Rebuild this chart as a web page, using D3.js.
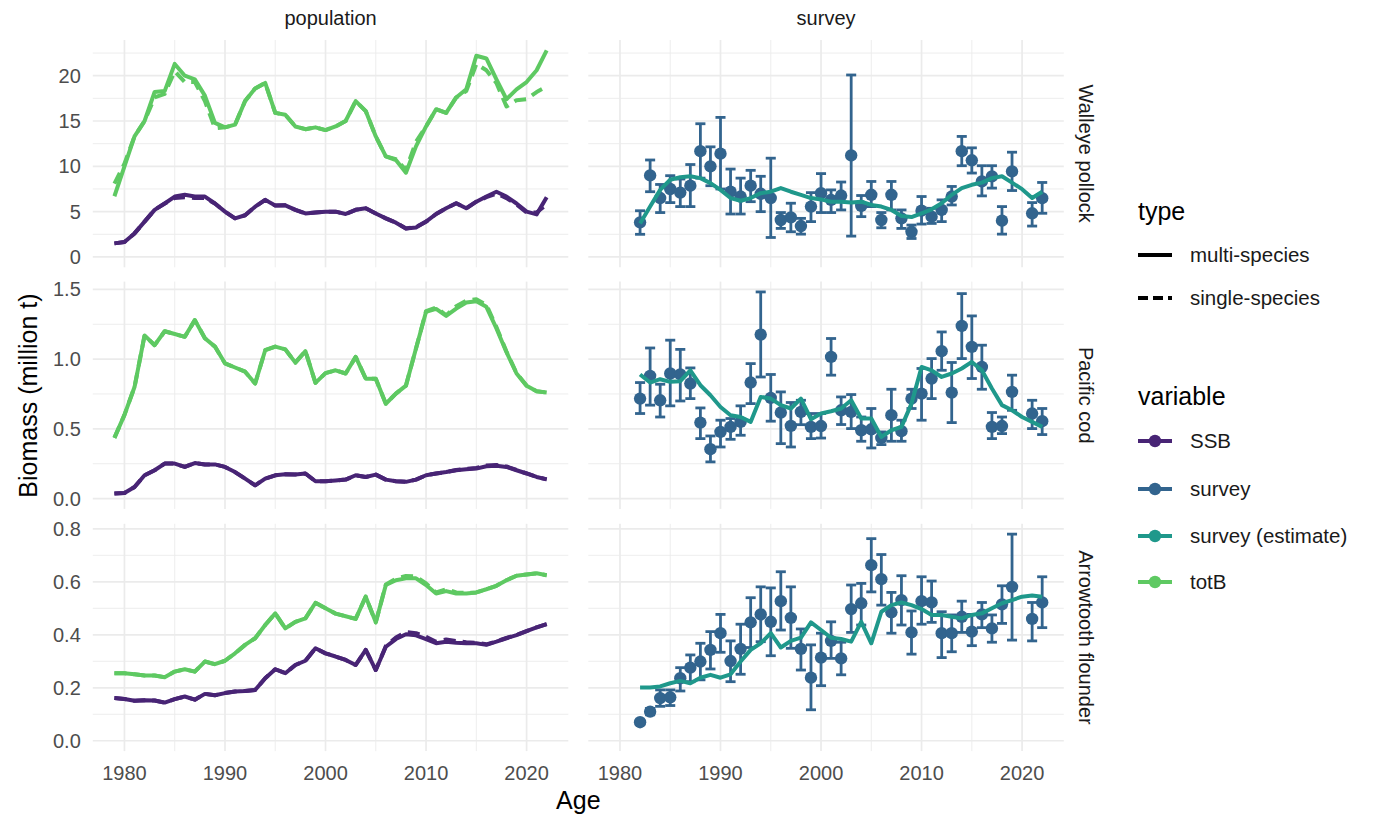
<!DOCTYPE html>
<html>
<head>
<meta charset="utf-8">
<script src="https://cdn.jsdelivr.net/npm/d3@7"></script>
<style>
  body { margin: 0; background: #ffffff; }
  text { font-family: "Liberation Sans", Arial, sans-serif; }
</style>
</head>
<body>
<svg id="chart" width="1397" height="821"></svg>
<script>
// ---------- data ----------
const speciesNames = ["Walleye pollock", "Pacific cod", "Arrowtooth flounder"];
const facetNames = ["population", "survey"];
const typeNames = ["multi-species", "single-species"];
const variableNames = ["SSB", "survey", "survey (estimate)", "totB"];

const popYears = [1979, 1980, 1981, 1982, 1983, 1984, 1985, 1986, 1987, 1988, 1989,
  1990, 1991, 1992, 1993, 1994, 1995, 1996, 1997, 1998, 1999,
  2000, 2001, 2002, 2003, 2004, 2005, 2006, 2007, 2008, 2009,
  2010, 2011, 2012, 2013, 2014, 2015, 2016, 2017, 2018, 2019,
  2020, 2021, 2022];

// Walleye pollock, population (million t)
const pollockTotBMulti = [6.7, 10.0, 13.3, 15.0, 18.2, 18.3, 21.3, 20.0, 19.6, 17.8, 14.8,
  14.3, 14.6, 17.2, 18.6, 19.2, 15.9, 15.7, 14.4, 14.1, 14.3,
  14.0, 14.4, 15.0, 17.2, 16.1, 13.3, 11.1, 10.7, 9.3, 12.2,
  14.4, 16.3, 15.9, 17.6, 18.5, 22.2, 21.9, 19.6, 17.4, 18.5,
  19.3, 20.6, 22.8];
const pollockTotBSingle = [8.1, 10.3, 13.3, 15.0, 17.6, 18.0, 20.5, 19.3, 19.3, 17.2, 14.2,
  14.3, 14.6, 17.2, 18.6, 19.2, 15.9, 15.7, 14.4, 14.1, 14.3,
  14.0, 14.4, 15.0, 17.2, 16.1, 13.3, 11.1, 10.8, 9.6, 12.7,
  14.4, 16.3, 15.9, 17.6, 18.3, 21.3, 20.6, 19.2, 16.6, 17.3,
  17.4, 18.2, 18.8];
const pollockSSBMulti = [1.5, 1.65, 2.6, 3.9, 5.2, 5.9, 6.67, 6.86, 6.67, 6.67, 5.9,
  5.0, 4.26, 4.6, 5.55, 6.3, 5.67, 5.7, 5.2, 4.8, 4.9,
  5.0, 5.0, 4.74, 5.2, 5.37, 4.8, 4.26, 3.78, 3.15, 3.26,
  3.9, 4.74, 5.37, 5.93, 5.37, 6.1, 6.67, 7.2, 6.67, 5.9,
  5.0, 4.7, 6.6];
const pollockSSBSingle = [1.5, 1.65, 2.6, 3.9, 5.2, 5.9, 6.5, 6.6, 6.5, 6.5, 5.9,
  5.0, 4.26, 4.6, 5.55, 6.3, 5.67, 5.7, 5.2, 4.8, 4.9,
  5.0, 5.0, 4.74, 5.2, 5.37, 4.8, 4.26, 3.78, 3.15, 3.3,
  3.9, 4.74, 5.37, 5.93, 5.37, 6.1, 6.6, 7.0, 6.5, 5.8,
  4.9, 4.9, 5.8];

// Pacific cod, population (million t)
const codTotBMulti = [0.435, 0.60, 0.80, 1.17, 1.10, 1.20, 1.18, 1.16, 1.28, 1.15, 1.09,
  0.97, 0.94, 0.91, 0.825, 1.064, 1.09, 1.07, 0.975, 1.057, 0.83,
  0.90, 0.92, 0.897, 1.016, 0.86, 0.86, 0.68, 0.753, 0.81, 1.076,
  1.34, 1.36, 1.31, 1.363, 1.406, 1.415, 1.375, 1.22, 1.05, 0.897,
  0.81, 0.77, 0.76];
const codTotBSingle = [0.435, 0.60, 0.80, 1.17, 1.10, 1.20, 1.18, 1.16, 1.28, 1.15, 1.09,
  0.97, 0.94, 0.91, 0.825, 1.064, 1.09, 1.07, 0.975, 1.057, 0.83,
  0.90, 0.92, 0.897, 1.016, 0.86, 0.86, 0.68, 0.753, 0.81, 1.076,
  1.345, 1.37, 1.315, 1.38, 1.42, 1.43, 1.39, 1.23, 1.055, 0.9,
  0.81, 0.77, 0.76];
const codSSBMulti = [0.036, 0.04, 0.083, 0.167, 0.203, 0.251, 0.251, 0.227, 0.255, 0.245, 0.245,
  0.227, 0.19, 0.143, 0.095, 0.143, 0.167, 0.175, 0.173, 0.18, 0.124,
  0.124, 0.13, 0.136, 0.167, 0.155, 0.172, 0.136, 0.124, 0.12, 0.136,
  0.167, 0.18, 0.19, 0.203, 0.21, 0.215, 0.232, 0.235, 0.227, 0.203,
  0.18, 0.155, 0.138];
const codSSBSingle = [0.036, 0.04, 0.083, 0.167, 0.203, 0.251, 0.251, 0.227, 0.255, 0.245, 0.245,
  0.227, 0.19, 0.143, 0.095, 0.143, 0.167, 0.175, 0.173, 0.18, 0.124,
  0.124, 0.13, 0.136, 0.167, 0.155, 0.172, 0.136, 0.124, 0.12, 0.136,
  0.167, 0.18, 0.19, 0.205, 0.213, 0.22, 0.238, 0.24, 0.23, 0.205,
  0.18, 0.155, 0.138];

// Arrowtooth flounder, population (million t)
const arrowTotBMulti = [0.255, 0.255, 0.251, 0.246, 0.246, 0.24, 0.261, 0.27, 0.261, 0.299, 0.289,
  0.302, 0.33, 0.362, 0.387, 0.437, 0.481, 0.424, 0.449, 0.462, 0.521,
  0.50, 0.48, 0.47, 0.46, 0.544, 0.447, 0.588, 0.606, 0.613, 0.613,
  0.588, 0.556, 0.565, 0.556, 0.556, 0.56, 0.572, 0.585, 0.606, 0.623,
  0.628, 0.632, 0.625];
const arrowTotBSingle = [0.255, 0.255, 0.251, 0.246, 0.246, 0.24, 0.261, 0.27, 0.261, 0.299, 0.289,
  0.302, 0.33, 0.362, 0.387, 0.437, 0.481, 0.424, 0.449, 0.462, 0.521,
  0.50, 0.48, 0.47, 0.46, 0.544, 0.447, 0.59, 0.612, 0.622, 0.62,
  0.594, 0.56, 0.572, 0.56, 0.558, 0.56, 0.572, 0.585, 0.606, 0.623,
  0.628, 0.632, 0.625];
const arrowSSBMulti = [0.161, 0.158, 0.151, 0.153, 0.152, 0.144, 0.157, 0.167, 0.155, 0.177, 0.172,
  0.18, 0.186, 0.188, 0.192, 0.236, 0.27, 0.255, 0.286, 0.302, 0.349,
  0.33, 0.318, 0.305, 0.286, 0.343, 0.267, 0.355, 0.384, 0.402, 0.398,
  0.384, 0.368, 0.374, 0.37, 0.368, 0.368, 0.362, 0.374, 0.387, 0.399,
  0.414, 0.428, 0.44];
const arrowSSBSingle = [0.161, 0.158, 0.151, 0.153, 0.152, 0.144, 0.157, 0.167, 0.155, 0.177, 0.172,
  0.18, 0.186, 0.188, 0.192, 0.236, 0.27, 0.255, 0.286, 0.302, 0.349,
  0.33, 0.318, 0.305, 0.286, 0.343, 0.267, 0.358, 0.39, 0.41, 0.406,
  0.392, 0.374, 0.382, 0.376, 0.372, 0.37, 0.364, 0.375, 0.388, 0.4,
  0.414, 0.428, 0.44];

// Survey index years (no survey in 2020) and estimate years
const surveyYears = [1982, 1983, 1984, 1985, 1986, 1987, 1988, 1989,
  1990, 1991, 1992, 1993, 1994, 1995, 1996, 1997, 1998, 1999,
  2000, 2001, 2002, 2003, 2004, 2005, 2006, 2007, 2008, 2009,
  2010, 2011, 2012, 2013, 2014, 2015, 2016, 2017, 2018, 2019,
  2021, 2022];
const estimateYears = [1982, 1983, 1984, 1985, 1986, 1987, 1988, 1989,
  1990, 1991, 1992, 1993, 1994, 1995, 1996, 1997, 1998, 1999,
  2000, 2001, 2002, 2003, 2004, 2005, 2006, 2007, 2008, 2009,
  2010, 2011, 2012, 2013, 2014, 2015, 2016, 2017, 2018, 2019,
  2020, 2021, 2022];

// Walleye pollock survey: observed, lower and upper interval, model estimate
const pollockSurvey = [3.82, 9.0, 6.5, 7.5, 7.1, 7.86, 11.67, 10.0,
  11.4, 7.2, 6.67, 7.86, 6.97, 6.5, 4.08, 4.37, 3.41, 5.56,
  7.04, 6.3, 6.78, 11.2, 5.63, 6.86, 4.08, 6.86, 4.26, 2.78,
  5.11, 4.45, 5.19, 6.67, 11.67, 10.67, 8.33, 8.89, 4.0, 9.44,
  4.82, 6.48];
const pollockSurveyLo = [2.5, 7.2, 4.9, 6.0, 5.56, 5.56, 8.7, 7.86,
  7.5, 4.74, 4.74, 6.1, 5.0, 2.15, 3.15, 2.78, 2.52, 3.9,
  4.9, 4.9, 5.19, 2.3, 4.45, 5.56, 3.22, 5.19, 3.15, 2.04,
  3.63, 3.7, 3.9, 5.74, 10.07, 9.26, 6.74, 7.6, 2.52, 7.33,
  3.41, 4.82];
const pollockSurveyHi = [5.1, 10.7, 8.0, 8.97, 8.6, 10.2, 14.7, 12.15,
  15.4, 9.7, 8.7, 9.56, 8.9, 10.9, 4.9, 5.93, 4.26, 7.1,
  9.2, 7.4, 8.27, 20.08, 6.78, 8.33, 4.9, 8.33, 5.19, 3.52,
  6.67, 5.37, 6.3, 7.78, 13.3, 12.04, 10.07, 10.07, 5.56, 11.56,
  6.0, 8.22];
const pollockEstimate = [3.7, 5.56, 7.4, 8.52, 8.8, 8.9, 8.7, 8.15,
  7.4, 6.5, 6.2, 6.5, 7.04, 7.2, 7.6, 7.2, 6.86, 6.5,
  6.35, 6.1, 6.1, 6.0, 6.1, 5.74, 5.56, 5.19, 4.52, 4.4,
  4.82, 5.26, 5.93, 6.86, 7.6, 7.96, 8.2, 8.7, 8.9, 8.2,
  7.48, 6.5, 7.2];

// Pacific cod survey
const codSurvey = [0.717, 0.88, 0.705, 0.897, 0.89, 0.825, 0.545, 0.354,
  0.478, 0.514, 0.55, 0.832, 1.176, 0.722, 0.617, 0.521, 0.621, 0.514,
  0.52, 1.016, 0.633, 0.621, 0.49, 0.497, 0.435, 0.598, 0.483, 0.717,
  0.753, 0.861, 1.057, 0.76, 1.238, 1.088, 0.944, 0.514, 0.52, 0.765,
  0.61, 0.555];
const codSurveyLo = [0.61, 0.67, 0.585, 0.665, 0.70, 0.717, 0.43, 0.263,
  0.37, 0.425, 0.454, 0.681, 0.872, 0.555, 0.394, 0.37, 0.53, 0.43,
  0.434, 0.885, 0.531, 0.502, 0.411, 0.363, 0.387, 0.411, 0.411, 0.646,
  0.562, 0.717, 0.92, 0.545, 1.004, 0.861, 0.784, 0.43, 0.466, 0.633,
  0.502, 0.459];
const codSurveyHi = [0.832, 1.08, 0.82, 1.136, 1.07, 0.937, 0.65, 0.449,
  0.562, 0.574, 0.665, 0.968, 1.482, 0.89, 0.765, 0.689, 0.705, 0.61,
  0.61, 1.148, 0.729, 0.746, 0.585, 0.646, 0.478, 0.784, 0.562, 0.784,
  0.933, 1.004, 1.195, 0.976, 1.47, 1.31, 1.1, 0.617, 0.585, 0.885,
  0.705, 0.646];
const codEstimate = [0.89, 0.832, 0.856, 0.837, 0.842, 0.92, 0.813, 0.741,
  0.657, 0.598, 0.585, 0.55, 0.729, 0.717, 0.67, 0.646, 0.717, 0.569,
  0.61, 0.626, 0.646, 0.705, 0.574, 0.574, 0.442, 0.49, 0.514, 0.681,
  0.944, 0.92, 0.872, 0.897, 0.933, 0.98, 0.92, 0.789, 0.67, 0.633,
  0.585, 0.55, 0.514];

// Arrowtooth flounder survey
const arrowSurvey = [0.07, 0.11, 0.161, 0.164, 0.236, 0.276, 0.299, 0.343,
  0.406, 0.301, 0.347, 0.447, 0.477, 0.449, 0.527, 0.464, 0.347, 0.238,
  0.314, 0.377, 0.311, 0.497, 0.519, 0.663, 0.61, 0.485, 0.531, 0.409,
  0.527, 0.522, 0.406, 0.406, 0.468, 0.412, 0.477, 0.424, 0.515, 0.581,
  0.46, 0.522];
const arrowSurveyLo = [0.062, 0.098, 0.13, 0.133, 0.188, 0.223, 0.23, 0.271,
  0.334, 0.223, 0.251, 0.352, 0.374, 0.321, 0.418, 0.349, 0.267, 0.117,
  0.208, 0.311, 0.249, 0.409, 0.437, 0.562, 0.512, 0.406, 0.437, 0.327,
  0.44, 0.447, 0.314, 0.336, 0.409, 0.359, 0.427, 0.372, 0.443, 0.38,
  0.377, 0.427];
const arrowSurveyHi = [0.078, 0.122, 0.192, 0.192, 0.276, 0.324, 0.368, 0.412,
  0.477, 0.377, 0.44, 0.54, 0.581, 0.577, 0.638, 0.581, 0.422, 0.362,
  0.406, 0.449, 0.372, 0.588, 0.594, 0.763, 0.703, 0.56, 0.623, 0.49,
  0.619, 0.603, 0.487, 0.475, 0.527, 0.477, 0.522, 0.475, 0.585, 0.78,
  0.522, 0.619];
const arrowEstimate = [0.201, 0.201, 0.205, 0.217, 0.226, 0.217, 0.238, 0.249,
  0.238, 0.251, 0.299, 0.343, 0.368, 0.406, 0.352, 0.377, 0.389, 0.447,
  0.418, 0.389, 0.384, 0.374, 0.449, 0.368, 0.487, 0.512, 0.522, 0.512,
  0.497, 0.475, 0.475, 0.468, 0.462, 0.475, 0.481, 0.5, 0.519, 0.531,
  0.544, 0.548, 0.544];

// axis ticks
const xTicks = [1980, 1990, 2000, 2010, 2020];
const xMinorTicks = [1985, 1995, 2005, 2015];
const yTicksPollock = [0, 5, 10, 15, 20];
const yTicksCod = [0, 0.5, 1.0, 1.5];
const yTicksArrow = [0, 0.2, 0.4, 0.6, 0.8];

// ---------- styling ----------
// viridis palette sampled between 0.1 and 0.75
const variableColors = [0.1, 0.3167, 0.5333, 0.75].map(t => d3.interpolateViridis(t));
const colorOf = d3.scaleOrdinal().domain(variableNames).range(variableColors);
const dashOf = d3.scaleOrdinal().domain(typeNames).range(["none", "12,7"]);

const tickSize = 20, stripSize = 20, legendTextSize = 20.5, titleSize = 25;
const lineW = 4;

const svg = d3.select("#chart");
const panelW = 475.5, panelH = 227.3;
const colX = [92.8, 588.3];
const rowY = [40, 281.6, 523.8];

// per-row series tables
const rows = [
  { name: speciesNames[0], yTicks: yTicksPollock, fmt: d3.format("d"),
    pop: [["totB", "multi-species", pollockTotBMulti], ["totB", "single-species", pollockTotBSingle],
          ["SSB", "multi-species", pollockSSBMulti], ["SSB", "single-species", pollockSSBSingle]],
    obs: pollockSurvey, lo: pollockSurveyLo, hi: pollockSurveyHi, est: pollockEstimate },
  { name: speciesNames[1], yTicks: yTicksCod, fmt: d3.format(".1f"),
    pop: [["totB", "multi-species", codTotBMulti], ["totB", "single-species", codTotBSingle],
          ["SSB", "multi-species", codSSBMulti], ["SSB", "single-species", codSSBSingle]],
    obs: codSurvey, lo: codSurveyLo, hi: codSurveyHi, est: codEstimate },
  { name: speciesNames[2], yTicks: yTicksArrow, fmt: d3.format(".1f"),
    pop: [["totB", "multi-species", arrowTotBMulti], ["totB", "single-species", arrowTotBSingle],
          ["SSB", "multi-species", arrowSSBMulti], ["SSB", "single-species", arrowSSBSingle]],
    obs: arrowSurvey, lo: arrowSurveyLo, hi: arrowSurveyHi, est: arrowEstimate }
];

// shared x scale with 5% expansion of the data range
const allYears = popYears.concat(surveyYears);
const xMin = d3.min(allYears), xMax = d3.max(allYears), xPad = (xMax - xMin) * 0.05;

const gridColor = "#ebebeb";

rows.forEach((row, ri) => {
  const yMax = d3.max([
    d3.max(row.pop, s => d3.max(s[2])),
    d3.max(row.hi), d3.max(row.obs), d3.max(row.est)
  ]);
  const yMin = 0;
  const yPad = (yMax - yMin) * 0.05;
  const y = d3.scaleLinear().domain([yMin - yPad, yMax + yPad]).range([rowY[ri] + panelH, rowY[ri]]);
  const step = row.yTicks[1] - row.yTicks[0];
  const yMinor = row.yTicks.map(t => t + step / 2).filter(t => t < y.domain()[1]);

  facetNames.forEach((facet, ci) => {
    const x = d3.scaleLinear().domain([xMin - xPad, xMax + xPad]).range([colX[ci], colX[ci] + panelW]);
    const g = svg.append("g");

    // grid
    g.selectAll(".ymin").data(yMinor).join("line")
      .attr("x1", colX[ci]).attr("x2", colX[ci] + panelW)
      .attr("y1", d => y(d)).attr("y2", d => y(d))
      .attr("stroke", gridColor).attr("stroke-width", 0.9);
    g.selectAll(".xmin").data(xMinorTicks).join("line")
      .attr("x1", d => x(d)).attr("x2", d => x(d))
      .attr("y1", rowY[ri]).attr("y2", rowY[ri] + panelH)
      .attr("stroke", gridColor).attr("stroke-width", 0.9);
    g.selectAll(".ymaj").data(row.yTicks).join("line")
      .attr("x1", colX[ci]).attr("x2", colX[ci] + panelW)
      .attr("y1", d => y(d)).attr("y2", d => y(d))
      .attr("stroke", gridColor).attr("stroke-width", 1.7);
    g.selectAll(".xmaj").data(xTicks).join("line")
      .attr("x1", d => x(d)).attr("x2", d => x(d))
      .attr("y1", rowY[ri]).attr("y2", rowY[ri] + panelH)
      .attr("stroke", gridColor).attr("stroke-width", 1.7);

    const line = d3.line().x(d => x(d[0])).y(d => y(d[1]));

    if (facet === "population") {
      // multi-species first, single-species dashed on top
      typeNames.forEach(tp => {
        row.pop.filter(s => s[1] === tp).forEach(s => {
          g.append("path")
            .datum(popYears.map((yr, i) => [yr, s[2][i]]))
            .attr("d", line)
            .attr("fill", "none")
            .attr("stroke", colorOf(s[0]))
            .attr("stroke-width", lineW)
            .attr("stroke-dasharray", dashOf(tp))
            .attr("stroke-linejoin", "round");
        });
      });
    } else {
      const pts = surveyYears.map((yr, i) => ({ yr, v: row.obs[i], lo: row.lo[i], hi: row.hi[i] }));
      const cap = 0.5;
      const eb = g.append("g").attr("stroke", colorOf("survey")).attr("stroke-width", 2.8);
      eb.selectAll(".v").data(pts).join("line")
        .attr("x1", d => x(d.yr)).attr("x2", d => x(d.yr))
        .attr("y1", d => y(d.lo)).attr("y2", d => y(d.hi));
      eb.selectAll(".t").data(pts).join("line")
        .attr("x1", d => x(d.yr - cap)).attr("x2", d => x(d.yr + cap))
        .attr("y1", d => y(d.hi)).attr("y2", d => y(d.hi));
      eb.selectAll(".b").data(pts).join("line")
        .attr("x1", d => x(d.yr - cap)).attr("x2", d => x(d.yr + cap))
        .attr("y1", d => y(d.lo)).attr("y2", d => y(d.lo));
      g.selectAll("circle").data(pts).join("circle")
        .attr("cx", d => x(d.yr)).attr("cy", d => y(d.v)).attr("r", 6.2)
        .attr("fill", colorOf("survey"));
      g.append("path")
        .datum(estimateYears.map((yr, i) => [yr, row.est[i]]))
        .attr("d", line)
        .attr("fill", "none")
        .attr("stroke", colorOf("survey (estimate)"))
        .attr("stroke-width", lineW)
        .attr("stroke-linejoin", "round");
    }

    // x tick labels on the bottom row
    if (ri === rows.length - 1) {
      g.selectAll(".xl").data(xTicks).join("text")
        .attr("x", d => x(d)).attr("y", rowY[ri] + panelH + 22).attr("dy", "0.35em")
        .attr("text-anchor", "middle").attr("font-size", tickSize).attr("fill", "#4d4d4d")
        .text(d => d);
    }
    // top strips
    if (ri === 0) {
      svg.append("text")
        .attr("x", colX[ci] + panelW / 2).attr("y", rowY[0] - 22).attr("dy", "0.35em")
        .attr("text-anchor", "middle").attr("font-size", stripSize).attr("fill", "#1a1a1a")
        .text(facet);
    }
  });

  // y tick labels
  svg.append("g").selectAll("text").data(row.yTicks).join("text")
    .attr("x", colX[0] - 12).attr("y", d => y(d)).attr("dy", "0.35em")
    .attr("text-anchor", "end").attr("font-size", tickSize).attr("fill", "#4d4d4d")
    .text(d => row.fmt(d));

  // right strip
  const sx = colX[1] + panelW + 22, sy = rowY[ri] + panelH / 2;
  svg.append("text")
    .attr("transform", `translate(${sx},${sy}) rotate(90)`)
    .attr("text-anchor", "middle").attr("dy", "0.35em")
    .attr("font-size", stripSize).attr("fill", "#1a1a1a")
    .text(row.name);
});

// axis titles
svg.append("text")
  .attr("x", (colX[0] + colX[1] + panelW) / 2).attr("y", 800).attr("dy", "0.35em")
  .attr("text-anchor", "middle").attr("font-size", titleSize).attr("fill", "#000")
  .text("Age");
svg.append("text")
  .attr("transform", `translate(28,${(rowY[0] + rowY[2] + panelH) / 2}) rotate(-90)`)
  .attr("text-anchor", "middle").attr("dy", "0.35em")
  .attr("font-size", titleSize).attr("fill", "#000")
  .text("Biomass (million t)");

// legends
const lg = svg.append("g");
const lx = 1138;
lg.append("text").attr("x", lx).attr("y", 211).attr("dy", "0.35em")
  .attr("font-size", titleSize).attr("fill", "#000").text("type");
const typeRowsY = [255, 298];
typeNames.forEach((t, i) => {
  lg.append("line").attr("x1", lx).attr("x2", lx + 34)
    .attr("y1", typeRowsY[i]).attr("y2", typeRowsY[i])
    .attr("stroke", "#000").attr("stroke-width", lineW)
    .attr("stroke-dasharray", t === "single-species" ? "10,5" : "none");
  lg.append("text").attr("x", lx + 52).attr("y", typeRowsY[i]).attr("dy", "0.35em")
    .attr("font-size", legendTextSize).attr("fill", "#1a1a1a").text(t);
});
lg.append("text").attr("x", lx).attr("y", 396).attr("dy", "0.35em")
  .attr("font-size", titleSize).attr("fill", "#000").text("variable");
const varRowsY = [441, 489, 536, 582];
variableNames.forEach((v, i) => {
  lg.append("line").attr("x1", lx).attr("x2", lx + 34)
    .attr("y1", varRowsY[i]).attr("y2", varRowsY[i])
    .attr("stroke", colorOf(v)).attr("stroke-width", lineW);
  lg.append("circle").attr("cx", lx + 17).attr("cy", varRowsY[i]).attr("r", 6.2)
    .attr("fill", colorOf(v));
  lg.append("text").attr("x", lx + 52).attr("y", varRowsY[i]).attr("dy", "0.35em")
    .attr("font-size", legendTextSize).attr("fill", "#1a1a1a").text(v);
});
</script>
</body>
</html>
